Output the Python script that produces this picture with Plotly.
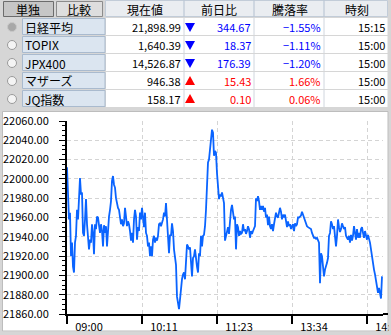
import plotly.graph_objects as go

# ---------------- table data ----------------
HEADERS = ["現在値", "前日比", "騰落率", "時刻"]
BUTTONS = ["単独", "比較"]
NAMES = ["日経平均", "TOPIX", "JPX400", "マザーズ", "JQ指数"]
PRICES = ["21,898.99", "1,640.39", "14,526.87", "946.38", "158.17"]
CHANGES = ["344.67", "18.37", "176.39", "15.43", "0.10"]
DIRECTIONS = ["down", "down", "down", "up", "up"]
RATES = ["\u22121.55%", "\u22121.11%", "\u22121.20%", "1.66%", "0.06%"]
TIMES = ["15:15", "15:00", "15:00", "15:00", "15:00"]
SELECTED = 0

# ---------------- chart data (Nikkei 225 intraday) ----------------
NIKKEI = [
    22012, 21980, 21958, 21965, 21920, 21934, 21909, 21903, 21934, 21941,
    21968, 21958, 21989, 22001, 21984, 21986, 21944, 21941, 21958, 21979,
    21953, 21934, 21927, 21937, 21934, 21953, 21944, 21922, 21953, 21948,
    21961, 21960, 21951, 21944, 21953, 21946, 21930, 21952, 21944, 21951,
    21930, 21954, 21961, 21968, 21977, 21998, 22003, 21994, 21991, 21980,
    21973, 21970, 21968, 21961, 21953, 21958, 21951, 21954, 21970, 21961,
    21951, 21956, 21953, 21946, 21936, 21944, 21934, 21958, 21968, 21961,
    21937, 21950, 21946, 21965, 21958, 21970, 21961, 21950, 21965, 21944,
    21941, 21930, 21934, 21920, 21930, 21920, 21937, 21941, 21934, 21939,
    21936, 21941, 21953, 21954, 21951, 21954, 21958, 21965, 21961, 21975,
    21954, 21943, 21923,
    21942, 21941, 21954, 21946, 21927, 21920, 21911, 21878, 21871, 21865,
    21875, 21890, 21896, 21901, 21903, 21896, 21916, 21932, 21930, 21927,
    21929, 21913, 21899, 21918, 21920, 21927, 21913, 21909, 21903, 21923,
    21920, 21941, 21930, 21941, 21942, 21951, 21968, 21999, 22017, 22020,
    22031, 22037, 22051, 22048, 22024, 22029, 22027, 22006, 21986, 21979,
    21984, 21982, 21986, 21979, 21975, 21936, 21941, 21948, 21950, 21943,
    21961, 21968, 21973, 21966, 21958, 21961, 21927, 21953, 21950, 21941,
    21946, 21943, 21944, 21953, 21946, 21948, 21943, 21946, 21951, 21948,
    21939, 21946, 21943, 21946, 21950, 21951, 21980, 21977, 21982, 21977,
    21968, 21972, 21968, 21972, 21966, 21970, 21960, 21963, 21952, 21961,
    21951, 21948, 21953, 21946, 21953, 21961, 21965, 21961, 21960, 21965,
    21970, 21966, 21958, 21963, 21960, 21963, 21954, 21950, 21956, 21951,
    21953, 21948, 21951, 21953, 21946, 21954, 21951, 21953, 21960, 21960,
    21961, 21962, 21966, 21963, 21960, 21958, 21953, 21951, 21950, 21949,
    21948, 21948, 21944, 21941, 21939, 21939, 21938, 21939, 21936, 21934,
    21892, 21923, 21920, 21908, 21899, 21906, 21909, 21913, 21918, 21941,
    21944, 21956, 21953, 21948, 21951, 21937, 21930, 21941, 21958, 21950,
    21945, 21948, 21954, 21951, 21948, 21950, 21941, 21939, 21937, 21941,
    21934, 21942, 21936, 21941, 21951, 21944, 21937, 21948, 21939, 21944,
    21939, 21948, 21950, 21944, 21939, 21946, 21941, 21937, 21942, 21939,
    21934, 21927, 21918, 21913, 21906, 21901, 21894, 21891, 21882, 21887,
    21880, 21876, 21899,
]
SAMPLES = list(range(len(NIKKEI)))
X_TICK_POS = [0, 75, 150, 225, 300]
X_TICK_LABELS = ["09:00", "10:11", "11:23", "13:34", "14:45"]
Y_MIN, Y_MAX, Y_STEP = 21860, 22060, 20

# ---------------- geometry (pixels) ----------------
W, H = 391, 335
PL, PR, PT, PB = 67, 383, 121, 314


def X(px):
    return (px - PL) / (PR - PL)


def Y(py):
    return (PB - py) / (PB - PT)


FONT = "Noto Sans CJK JP, sans-serif"
BG = "#d6d6d6"
shapes = []
annotations = []


def rect(x0, y0, x1, y1, fill, line=None, lw=1, layer="below"):
    shapes.append(dict(type="rect", xref="paper", yref="paper",
                       x0=X(x0), x1=X(x1), y0=Y(y1), y1=Y(y0),
                       fillcolor=fill, layer=layer,
                       line=dict(color=line or fill, width=lw if line else 0)))


def hline(x0, x1, y, color, w=1, layer="below"):
    shapes.append(dict(type="line", xref="paper", yref="paper",
                       x0=X(x0), x1=X(x1), y0=Y(y), y1=Y(y), layer=layer,
                       line=dict(color=color, width=w)))


def vline(x, y0, y1, color, w=1, layer="below"):
    shapes.append(dict(type="line", xref="paper", yref="paper",
                       x0=X(x), x1=X(x), y0=Y(y0), y1=Y(y1), layer=layer,
                       line=dict(color=color, width=w)))


def text(t, x, y, anchor="center", size=12, color="#000000"):
    annotations.append(dict(text=t, xref="paper", yref="paper",
                            x=X(x), y=Y(y), xanchor=anchor, yanchor="middle",
                            showarrow=False, borderpad=0,
                            font=dict(family=FONT, size=size, color=color)))


# ---------------- table ----------------
COL_SEPS = [184, 254, 324]
# header
rect(105.5, 0.5, 387.5, 16.5, "#eaedf1", "#c2ccd8")
for xs in COL_SEPS:
    vline(xs, 0.5, 16.5, "#b3c0d0")
rect(3.5, 1.5, 53.5, 16.5, "#c6c6c6", "#6c6c6c")
rect(56.5, 1.5, 102.5, 16.5, "#dedede", "#8c8c8c")
text(BUTTONS[0], 28, 9.5, size=12)
text(BUTTONS[1], 79, 9.5, size=12)
HEAD_X = [145, 219, 289.5, 356.5]
for h, hx in zip(HEADERS, HEAD_X):
    text(h, hx, 9.5, size=12)

UP, DOWN = "#ff0000", "#0000ff"
for i, name in enumerate(NAMES):
    top = 18 + 18 * i
    bot = top + 17
    c = top + 9
    col = DOWN if DIRECTIONS[i] == "down" else UP
    # radio
    if i == SELECTED:
        shapes.append(dict(type="circle", xref="paper", yref="paper",
                           x0=X(7.5), x1=X(16.5), y0=Y(c + 4.5), y1=Y(c - 4.5),
                           fillcolor="#a8a8a8", line=dict(color="#c8c8c8", width=1),
                           layer="below"))
    else:
        shapes.append(dict(type="circle", xref="paper", yref="paper",
                           x0=X(7.5), x1=X(16.5), y0=Y(c + 4.5), y1=Y(c - 4.5),
                           fillcolor="#f4f4f4", line=dict(color="#9a9a9a", width=1),
                           layer="below"))
    # name cell
    rect(22.5, top + 0.5, 105, bot - 0.5, "#dbe5f0", "#a9bace")
    # data cells
    rect(106, top, 387.5, bot, "#ffffff")
    for xs in COL_SEPS:
        vline(xs, top, bot, "#d0d6de")
    # triangle
    if DIRECTIONS[i] == "down":
        path = f"M {X(185)} {Y(c - 4)} L {X(195)} {Y(c - 4)} L {X(190)} {Y(c + 5)} Z"
    else:
        path = f"M {X(185)} {Y(c + 4)} L {X(195)} {Y(c + 4)} L {X(190)} {Y(c - 5)} Z"
    shapes.append(dict(type="path", xref="paper", yref="paper", path=path,
                       fillcolor=col, line=dict(color=col, width=0), layer="below"))
    text(name, 24, c, anchor="left", size=12)
    text(PRICES[i], 182, c, anchor="right", size=11)
    text(CHANGES[i], 252, c, anchor="right", size=11, color=col)
    text(RATES[i], 322, c, anchor="right", size=11, color=col)
    text(TIMES[i], 386, c, anchor="right", size=11)

# chart panel
rect(2.5, 111.5, 388, 331, "#ffffff", "#bdbdbd")
# axis extension to the right and right-edge clip
hline(383, 388, 314, "#000000", w=2, layer="above")
rect(388.5, 300, 391, 335, BG, layer="above")
rect(0, 331.5, 391, 335, BG, layer="above")

# ---------------- figure ----------------
fig = go.Figure(go.Scatter(
    x=SAMPLES, y=NIKKEI, mode="lines",
    line=dict(color="#0a64ff", width=1.8), hoverinfo="skip"))

GRID = "#d4d4d4"
fig.update_layout(
    width=W, height=H,
    margin=dict(l=PL, r=W - PR, t=PT, b=H - PB, pad=0, autoexpand=False),
    paper_bgcolor=BG, plot_bgcolor="#ffffff",
    showlegend=False,
    shapes=shapes, annotations=annotations,
    font=dict(family=FONT, size=11, color="#000000"),
    xaxis=dict(range=[0, 316], tickvals=X_TICK_POS, ticktext=X_TICK_LABELS,
               ticks="outside", ticklen=8, tickwidth=1.5, tickcolor="#000000",
               showline=True, linecolor="#000000", linewidth=2,
               showgrid=True, gridcolor=GRID, griddash="4px,3px", gridwidth=1,
               zeroline=False, fixedrange=True, automargin=False,
               ticklabelshift=22, ticklabelstandoff=-6,
               ticklabeloverflow="allow",
               tickfont=dict(family=FONT, size=11, color="#000000")),
    yaxis=dict(range=[Y_MIN, Y_MAX], dtick=Y_STEP, tick0=Y_MIN, tickformat=".2f",
               ticks="outside", ticklen=6, tickwidth=1, tickcolor="#000000",
               showline=True, linecolor="#000000", linewidth=2,
               showgrid=True, gridcolor=GRID, griddash="4px,3px", gridwidth=1,
               zeroline=False, fixedrange=True, automargin=False,
               ticklabelstandoff=8,
               minor=dict(dtick=5, ticks="outside", ticklen=3, tickcolor="#000000",
                          showgrid=False),
               tickfont=dict(family=FONT, size=11, color="#000000")),
)

fig.write_html("out.html", config={"displayModeBar": False})
